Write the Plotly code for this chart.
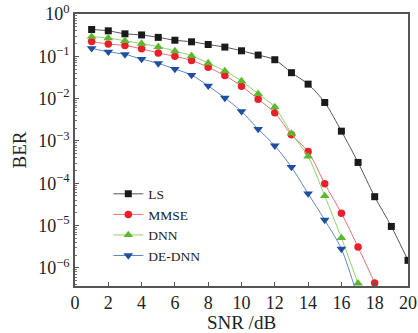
import plotly.graph_objects as go

snr = list(range(1, 21))
ls = [0.43, 0.40, 0.34, 0.32, 0.28, 0.24, 0.22, 0.19, 0.165, 0.135, 0.107, 0.083,
      0.041, 0.022, 0.0081, 0.0017, 3.1e-4, 4.8e-5, 9.5e-6, 1.5e-6]
snr_m = list(range(1, 19))
mmse = [0.225, 0.195, 0.18, 0.15, 0.12, 0.10, 0.08, 0.055, 0.035, 0.0197, 0.0097, 0.0046,
        0.0014, 5.6e-4, 9.7e-5, 1.95e-5, 3.1e-6, 4.4e-7]
snr_d = list(range(1, 18))
dnn = [0.29, 0.27, 0.233, 0.20, 0.168, 0.133, 0.103, 0.069, 0.045, 0.026, 0.013, 0.0063,
       0.0015, 4.3e-4, 5.0e-5, 5.1e-6, 4.3e-7]
snr_e = list(range(1, 18))
dednn = [0.154, 0.128, 0.111, 0.086, 0.068, 0.05, 0.036, 0.020, 0.0104, 0.005, 0.0019,
         7.7e-4, 2.4e-4, 5.7e-5, 1.35e-5, 2.8e-6, 1.9e-7]

ytick_vals = [1, 0.1, 0.01, 1e-3, 1e-4, 1e-5, 1e-6]
ytick_text = ["10<sup>0</sup>", "10<sup>−1</sup>", "10<sup>−2</sup>", "10<sup>−3</sup>",
              "10<sup>−4</sup>", "10<sup>−5</sup>", "10<sup>−6</sup>"]
xtick_vals = [0, 2, 4, 6, 8, 10, 12, 14, 16, 18, 20]

series = [
    ("LS", snr, ls, "#1a1a1a", "#555555", "square", 7),
    ("MMSE", snr_m, mmse, "#e8202a", "#e8706f", "circle", 7.5),
    ("DNN", snr_d, dnn, "#5cb82e", "#8fd36a", "triangle-up", 8.5),
    ("DE-DNN", snr_e, dednn, "#1f4fa0", "#5f86c4", "triangle-down", 8.5),
]

fig = go.Figure()
for name, xs, ys, mc, lc, sym, sz in series:
    fig.add_trace(go.Scatter(
        x=xs, y=ys, name=name, mode="lines+markers",
        line=dict(color=lc, width=1, shape="spline", smoothing=0.8),
        marker=dict(color=mc, symbol=sym, size=sz, line=dict(width=0)),
    ))

font_family = "Liberation Serif"
fig.update_layout(
    width=418, height=333,
    margin=dict(l=75, r=10, t=14, b=47, autoexpand=False),
    paper_bgcolor="white", plot_bgcolor="white",
    font=dict(family=font_family, color="#222222", size=15),
    showlegend=True,
    legend=dict(x=0.1, y=0.395, xanchor="left", yanchor="top",
                bgcolor="rgba(0,0,0,0)", font=dict(size=13.5, family=font_family),
                itemwidth=30, tracegroupgap=0),
    xaxis=dict(range=[0, 20], tickvals=xtick_vals, ticks="inside", ticklen=4,
               tickcolor="#555555", showline=True, linecolor="#555555", linewidth=1.5,
               mirror=True, showgrid=False, zeroline=False, automargin=False,
               tickfont=dict(size=18),
               title=dict(text="SNR /dB", font=dict(size=19), standoff=2)),
    yaxis=dict(type="log", range=[-6.43, 0], tickvals=ytick_vals, ticktext=ytick_text,
               ticks="inside", ticklen=4, tickcolor="#555555",
               minor=dict(ticks="inside", ticklen=2, tickcolor="#777777", dtick="D1"),
               showline=True, linecolor="#555555", linewidth=1.5, mirror=True,
               showgrid=False, zeroline=False, automargin=False, tickfont=dict(size=18),
               title=dict(text="BER", font=dict(size=19), standoff=7)),
)

fig.write_html("out.html")
